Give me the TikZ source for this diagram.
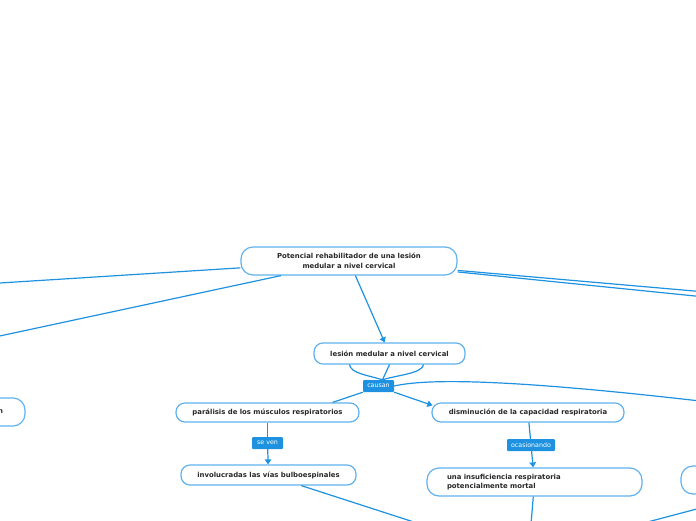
\documentclass[tikz,border=0pt]{standalone}
\usepackage{fontspec}
\setmainfont{DejaVu Sans}
\usetikzlibrary{arrows.meta,calc}
\definecolor{lineblue}{RGB}{30,146,224}
\definecolor{boxblue}{RGB}{96,178,238}
\definecolor{txt}{RGB}{40,40,40}
\begin{document}
\begin{tikzpicture}[x=1pt,y=-1pt,
 topic/.style={draw=boxblue, line width=1.2pt, rounded corners=9pt, fill=white, text=txt, font=\fontsize{6.9}{9.5}\selectfont\bfseries, inner sep=0pt, align=center},
 lbl/.style={fill=lineblue, text=white, font=\fontsize{6.3}{7}\selectfont, inner sep=0pt, minimum height=12pt, rounded corners=1pt},
 conn/.style={draw=lineblue, line width=1.2pt},
 arr/.style={conn, -{Triangle[length=5pt,width=6.5pt]}}]
\useasboundingbox (0,0) rectangle (696,520);
\clip (0,0) rectangle (696,520);
% nodes
\node[topic, minimum width=216pt, minimum height=28pt, rounded corners=12pt] (main) at (349,261) {Potencial rehabilitador de una lesión\\medular a nivel cervical};
\node[topic, minimum width=151pt, minimum height=21pt] (lesion) at (389.5,353.5) {lesión medular a nivel cervical};
\node[lbl, minimum width=31pt] (causan) at (378.5,386) {causan};
\node[topic, minimum width=183pt, minimum height=19pt] (paral) at (267.5,412.5) {parálisis de los músculos respiratorios};
\node[lbl, minimum width=31pt] (seven) at (267.5,443) {se ven};
\node[topic, minimum width=175pt, minimum height=20pt] (invol) at (268.5,475) {involucradas las vías bulboespinales};
\node[topic, minimum width=192pt, minimum height=19pt] (dism) at (528,412.5) {disminución de la capacidad respiratoria};
\node[lbl, minimum width=48pt] (ocas) at (531,445) {ocasionando};
\node[topic, minimum height=28pt, text width=175pt, inner xsep=20pt, align=left, rounded corners=12pt] (insuf) at (534.5,482) {una insuficiencia respiratoria\\potencialmente mortal};
\node[topic, minimum height=28pt, text width=76pt, inner xsep=22pt, align=right, rounded corners=12pt] (leftn) at (-35,412) {n};
\node[topic, minimum width=140pt, minimum height=28pt, rounded corners=12pt] (rightn) at (751,480) {};
% free ends
\coordinate (offA) at (-5,283.3);
\coordinate (offB) at (-5,337);
\coordinate (offC) at (700,291.5);
\coordinate (offD) at (700,296.5);
\coordinate (offE) at (700,401);
\coordinate (offF) at (420,524);
\coordinate (offG) at (531,524);
\coordinate (offH) at (640,524);
% connectors
\draw[conn] (main) -- (offA);
\draw[conn] (main) -- (offB);
\draw[conn] (main) -- (offC);
\draw[conn] (main) -- (offD);
\draw[arr] (main) -- (lesion);
\draw[conn] ($(lesion.south west)+(36,0)$) .. controls +(2,9) and +(-16,-5) .. ($(causan.north)+(4,0)$);
\draw[conn] (lesion.south) -- ($(causan.north)+(4,0)$);
\draw[conn] ($(lesion.south east)+(-42,0)$) .. controls +(-2,9) and +(16,-5) .. ($(causan.north)+(4,0)$);
\draw[conn] (causan.south west) -- ($(paral.north east)+(-27,0)$);
\draw[arr] (causan.south east) -- ($(dism.north west)+(1,3)$);
\draw[conn] (causan.east) .. controls (425,379) and (500,378) .. (offE);
\draw[conn] (paral) -- (seven);
\draw[arr] (seven) -- (invol);
\draw[conn] (dism) -- (ocas);
\draw[arr] (ocas) -- (insuf);
\draw[conn] (invol) -- (offF);
\draw[conn] (insuf) -- (offG);
\draw[conn] (rightn.south) -- (offH);
\end{tikzpicture}
\end{document}
